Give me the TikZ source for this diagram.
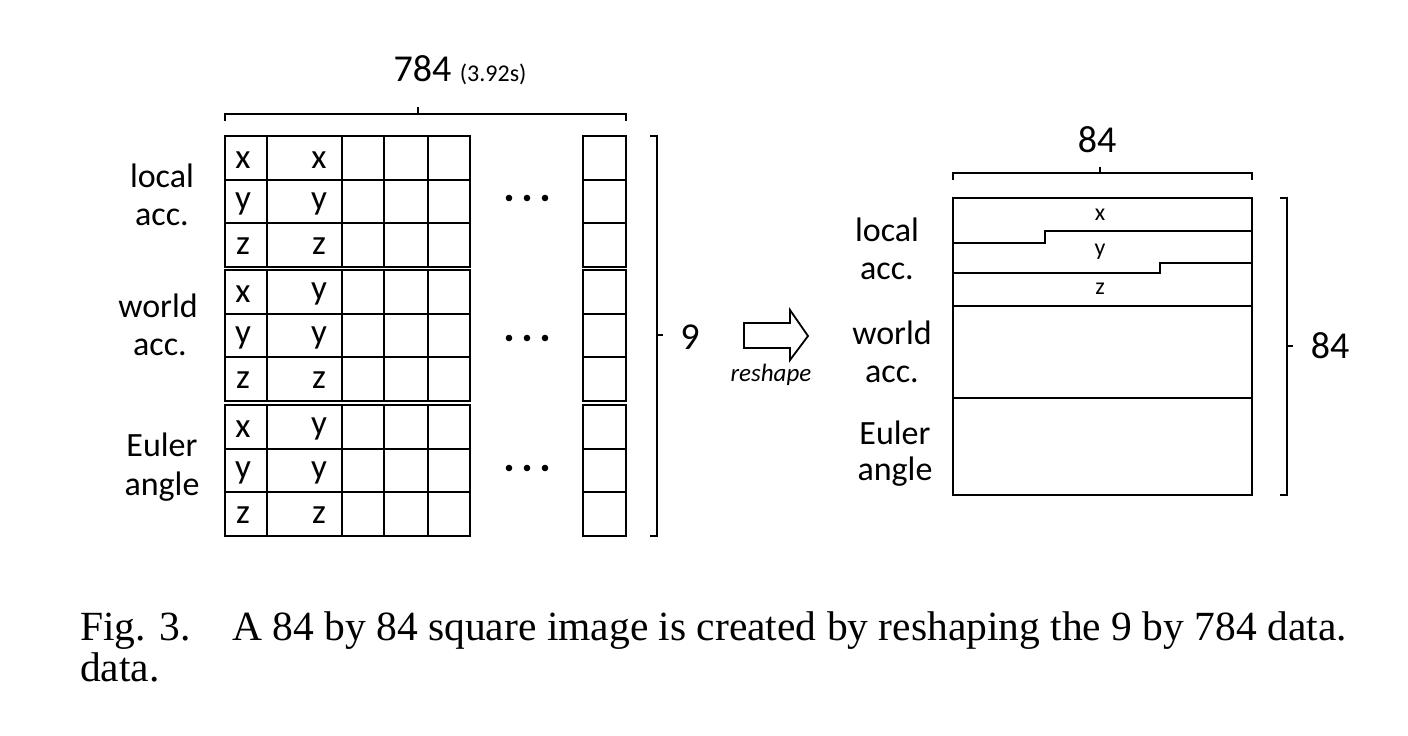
\documentclass[tikz,border=0pt]{standalone}
\usepackage{fontspec}
\setmainfont{Carlito}
\newfontfamily\capfont{Liberation Serif}
\begin{document}
\begin{tikzpicture}[x=1pt,y=-1pt,
  lab/.style={font=\fontsize{34}{34}\selectfont, inner sep=0},
  cell/.style={font=\fontsize{35}{35}\selectfont, inner sep=0},
  small/.style={font=\fontsize{24}{24}\selectfont, inner sep=0},
  ln/.style={line width=2pt},
  br/.style={line width=1.6pt}]
\useasboundingbox (0,0) rectangle (1408,736);
% left grid
\foreach \t in {136, 270, 405}{
  \draw[ln] (225,\t) rectangle (470,\t+131);
  \draw[ln] (583,\t) rectangle (626,\t+131);
  \foreach \xx in {267,342,384,428}{\draw[ln] (\xx,\t) -- (\xx,\t+131);}
  \foreach \yy in {44,87}{\draw[ln] (225,\t+\yy) -- (470,\t+\yy); \draw[ln] (583,\t+\yy) -- (626,\t+\yy);}
}
\foreach \t/\a/\b in {136/x/x, 270/x/y, 405/x/y}{
  \node[cell] (a\t) at (243,\t+24) {\a};
  \node[cell] (b\t) at (319,\t+24) {\b};
  \node[cell] (c\t) at (243,\t+68) {y};
  \node[cell] (d\t) at (319,\t+68) {y};
  \node[cell] (e\t) at (243,\t+110) {z};
  \node[cell] (f\t) at (319,\t+110) {z};
}
\foreach \yy in {198,338,468}{\foreach \xx in {509,527,545}{\fill (\xx,\yy) circle (3.3);}}
% labels left
\node[lab] (l1) at (162,176) {local};
\node[lab] (l2) at (162,217) {acc.};
\node[lab] (l3) at (158,306) {world};
\node[lab] (l4) at (160,347) {acc.};
\node[lab] (l5) at (162,445) {Euler};
\node[lab] (l6) at (162,487) {angle};
% top brace
\draw[br] (225,121) -- (225,114) -- (626,114) -- (626,121);
\draw[br] (418,114) -- (418,107);
\node[font=\fontsize{38}{38}\selectfont, inner sep=0] (t784) at (460,70) {784 {\fontsize{24}{24}\selectfont(3.92s)}};
% right brace
\draw[br] (650,136) -- (657,136) -- (657,536) -- (650,536);
\draw[br] (657,335) -- (663,335);
\node[font=\fontsize{38}{38}\selectfont, inner sep=0] (n9) at (690,337) {9};
% arrow
\draw[line width=1.8pt] (744,323) -- (790,323) -- (790,310) -- (808,336) -- (790,360) -- (790,348) -- (744,348) -- cycle;
\node[font=\fontsize{25}{25}\selectfont\itshape, inner sep=0] (rs) at (771,375) {reshape};
% right box
\draw[ln] (953,198) rectangle (1252,495);
\draw[ln] (953,243) -- (1045,243) -- (1045,231) -- (1252,231);
\draw[ln] (953,273) -- (1160,273) -- (1160,263) -- (1252,263);
\draw[ln] (953,306) -- (1252,306);
\draw[ln] (953,398) -- (1252,398);
\node[small] (rx) at (1100,215) {x};
\node[small] (ry) at (1100,252) {y};
\node[small] (rz) at (1100,289) {z};
\draw[br] (953,180) -- (953,173) -- (1252,173) -- (1252,180);
\draw[br] (1100,173) -- (1100,167);
\node[font=\fontsize{38}{38}\selectfont, inner sep=0] (t84) at (1097,140) {84};
\draw[br] (1280,198) -- (1287,198) -- (1287,495) -- (1280,495);
\draw[br] (1287,346) -- (1293,346);
\node[font=\fontsize{38}{38}\selectfont, inner sep=0] (r84) at (1330,346) {84};
\node[lab] (m1) at (887,230) {local};
\node[lab] (m2) at (887,271) {acc.};
\node[lab] (m3) at (892,333) {world};
\node[lab] (m4) at (892,374) {acc.};
\node[lab] (m5) at (895,433) {Euler};
\node[lab] (m6) at (895,472) {angle};
% caption
\node[font=\capfont\fontsize{41.5}{41.5}\selectfont, inner sep=0, anchor=base west] (cap1) at (80,640) {Fig. 3.\quad A 84 by 84 square image is created by reshaping the 9 by 784 data.};
\node[font=\capfont\fontsize{41.5}{41.5}\selectfont, inner sep=0, anchor=base west] (cap2) at (80,681) {data.};
\end{tikzpicture}
\end{document}
